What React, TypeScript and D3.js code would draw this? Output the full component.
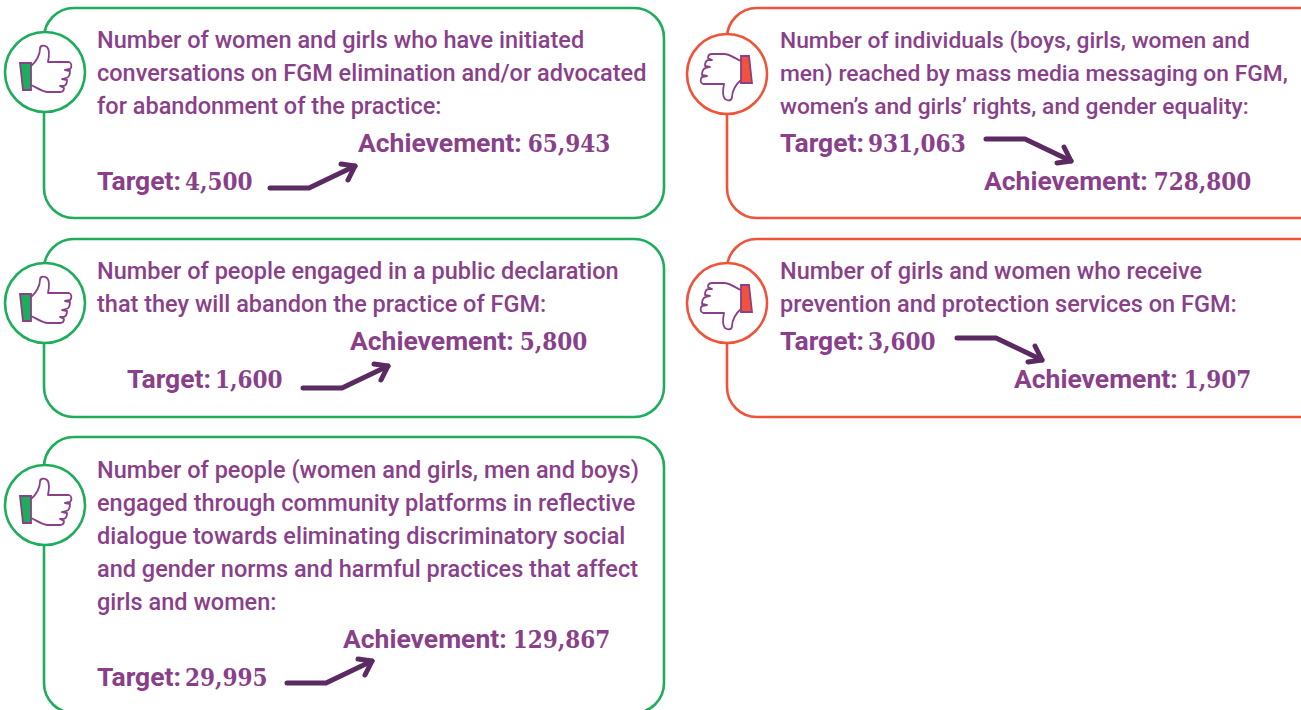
import { useRef, useEffect } from "react";
import * as d3 from "d3";

// indicator texts, one list of lines per card
const descriptions = [
  [
    "Number of women and girls who have initiated",
    "conversations on FGM elimination and/or advocated",
    "for abandonment of the practice:",
  ],
  [
    "Number of people engaged in a public declaration",
    "that they will abandon the practice of FGM:",
  ],
  [
    "Number of people (women and girls, men and boys)",
    "engaged through community platforms in reflective",
    "dialogue towards eliminating discriminatory social",
    "and gender norms and harmful practices that affect",
    "girls and women:",
  ],
  [
    "Number of individuals (boys, girls, women and",
    "men) reached by mass media messaging on FGM,",
    "women\u2019s and girls\u2019 rights, and gender equality:",
  ],
  [
    "Number of girls and women who receive",
    "prevention and protection services on FGM:",
  ],
];
const targets = [4500, 1600, 29995, 931063, 3600];
const achievements = [65943, 5800, 129867, 728800, 1907];
const metTarget = [true, true, true, false, false];

// layout of each card, kept apart from the values
const cards = [
  { x: 44, y: 8, h: 210, cy: 72, tx: 97, ty: 48, fs: 23.5, targetX: 97, targetY: 190, achX: 358, achY: 152, arrowX: 270, arrowY: 188 },
  { x: 44, y: 239, h: 178, cy: 303, tx: 97, ty: 279, fs: 23.5, targetX: 127, targetY: 388, achX: 350, achY: 350, arrowX: 303, arrowY: 388 },
  { x: 44, y: 437, h: 276, cy: 505, tx: 97, ty: 477.5, fs: 23.5, targetX: 97, targetY: 686, achX: 343, achY: 648, arrowX: 287, arrowY: 683 },
  { x: 727, y: 8, h: 210, cy: 74, tx: 780, ty: 48, fs: 22.8, targetX: 780, targetY: 152, achX: 984, achY: 189.5, arrowX: 986, arrowY: 139 },
  { x: 727, y: 239, h: 178, cy: 303, tx: 780, ty: 279, fs: 23.5, targetX: 780, targetY: 350, achX: 1014, achY: 387.5, arrowX: 957, arrowY: 338 },
];

const GREEN = "#1ead5a";
const RED = "#f0533a";
const PURPLE = "#8a3f8b";
const ARROW = "#5b2a62";
const lineHeight = 33;
const numberFormat = d3.format(",");

// hand drawn around the circle centre, pointing up
const handPath =
  "M-14,-6 C-9,-10 -5,-17 -5,-23 C-5,-27 -1,-27 2,-25 C5,-22 4,-15 3,-10 L24,-10 C27,-9 27,-5 25,-3 L20,-2 L25,-1 C25,2 24,6 21,6 L17,7 L22,8 C22,11 21,14 18,14 L15,14 L19,16 C19,19 18,20 15,20 L3,20 C-3,20 -9,15 -14,13";

const App = () => {
  const svgRef = useRef<SVGSVGElement | null>(null);

  useEffect(() => {
    const svg = d3.select(svgRef.current);

    // clear svg before adding new elements
    svg.selectAll("*").remove();

    const line = d3.line();

    cards.forEach((card, i) => {
      const good = metTarget[i];
      const colour = good ? GREEN : RED;
      const g = svg.append("g");

      g.append("rect")
        .attr("x", card.x)
        .attr("y", card.y)
        .attr("width", good ? 620 : 640)
        .attr("height", card.h)
        .attr("rx", 30)
        .attr("fill", "#fff")
        .attr("stroke", colour)
        .attr("stroke-width", 2.6);

      const icon = g
        .append("g")
        .attr("transform", `translate(${card.x + (good ? 1 : 0)},${card.cy})`);

      icon
        .append("circle")
        .attr("r", 40)
        .attr("fill", "#fff")
        .attr("stroke", colour)
        .attr("stroke-width", 2.6);

      const hand = icon.append("g").attr("transform", good ? "" : "rotate(180)");

      hand
        .append("path")
        .attr("d", handPath)
        .attr("fill", "none")
        .attr("stroke", PURPLE)
        .attr("stroke-width", 1.8)
        .attr("stroke-linejoin", "round");

      hand
        .append("path")
        .attr("d", "M-25,-9 L-14,-9 L-14,18 L-22,18 Z")
        .attr("fill", colour)
        .attr("stroke", PURPLE)
        .attr("stroke-width", 1.8);

      // description lines
      g.selectAll("text.desc")
        .data(descriptions[i])
        .join("text")
        .attr("class", "desc")
        .attr("x", card.tx)
        .attr("y", (_, k) => card.ty + k * lineHeight)
        .attr("fill", PURPLE)
        .attr("font-family", "Roboto")
        .attr("font-weight", 500)
        .attr("font-size", card.fs)
        .text((d) => d);

      // target and achievement labels, numbers are in a serif face
      const label = (x: number, y: number, name: string, value: number, gap: number) => {
        const text = g
          .append("text")
          .attr("x", x)
          .attr("y", y)
          .attr("fill", PURPLE)
          .attr("font-weight", 700)
          .attr("font-size", 26.5);
        text.append("tspan").attr("font-family", "Roboto").text(`${name}:`);
        text
          .append("tspan")
          .attr("dx", gap)
          .attr("font-family", "'DejaVu Serif Condensed', 'DejaVu Serif'")
          .attr("font-size", 24)
          .text(numberFormat(value));
      };
      label(card.targetX, card.targetY, "Target", targets[i], 4);
      label(card.achX, card.achY, "Achievement", achievements[i], 6);

      // arrow goes up when the target was beaten, down when missed
      const dir = good ? -1 : 1;
      const x0 = card.arrowX;
      const y0 = card.arrowY;
      const tip: [number, number] = [x0 + 85, y0 + dir * 22];
      g.append("path")
        .attr(
          "d",
          line([
            [x0, y0],
            [x0 + 39, y0],
            tip,
          ])
        )
        .attr("fill", "none")
        .attr("stroke", ARROW)
        .attr("stroke-width", 5)
        .attr("stroke-linecap", "round")
        .attr("stroke-linejoin", "round");
      g.append("path")
        .attr(
          "d",
          line([
            [tip[0] - 14, tip[1] + dir * 2],
            tip,
            [tip[0] - 7, tip[1] - dir * 14],
          ])
        )
        .attr("fill", "none")
        .attr("stroke", ARROW)
        .attr("stroke-width", 5)
        .attr("stroke-linecap", "round")
        .attr("stroke-linejoin", "round");
    });
  }, []);

  return (
    <svg
      ref={svgRef}
      width={1301}
      height={710}
      style={{ position: "absolute", left: 0, top: 0, display: "block", background: "#fff" }}
    ></svg>
  );
};

export default App;
